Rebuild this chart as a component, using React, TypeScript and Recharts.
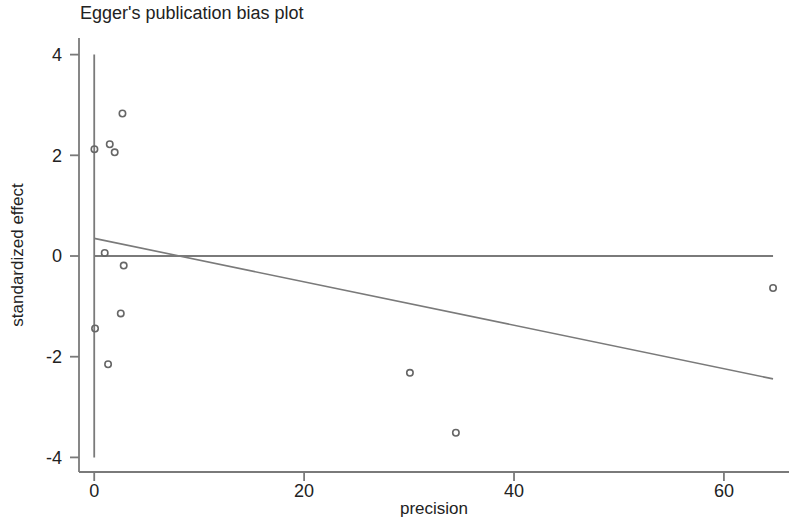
import React from "react"
import { ScatterChart, Scatter, XAxis, YAxis } from "recharts"

// study points
const precision = [0.02, 1.48, 1.95, 2.69, 1.0, 2.81, 2.53, 0.08, 1.32, 30.08, 34.46, 64.68]
const stdEffect = [2.12, 2.22, 2.06, 2.83, 0.06, -0.19, -1.14, -1.44, -2.15, -2.32, -3.51, -0.635]

// Egger regression line end points
const fitPrecision = [0, 64.68]
const fitEffect = [0.35, -2.44]

// reference lines
const zeroLineX = [0, 64.68]
const vertLineY = [-4, 4]

const xTicks = [0, 20, 40, 60]
const yTicks = [-4, -2, 0, 2, 4]

const points = precision.map((x, i) => ({ x, y: stdEffect[i] }))
const fitLine = fitPrecision.map((x, i) => ({ x, y: fitEffect[i] }))
const hLine = zeroLineX.map((x) => ({ x, y: 0 }))
const vLine = vertLineY.map((y) => ({ x: 0, y }))

const gray = "#7a7a7a"
const font = "'Liberation Sans', Arial, sans-serif"

const Ring = (props: any) => {
  const { cx, cy } = props
  if (cx == null || cy == null) return null
  return <circle cx={cx} cy={cy} r={3.2} fill="none" stroke="#666" strokeWidth={1.6} />
}

const NoDot = () => null

export default function App() {
  return (
    <div style={{ position: "absolute", left: 0, top: 0, width: 800, height: 529, background: "#fff", fontFamily: font }}>
      <div style={{ position: "absolute", left: 80, top: 3, fontSize: 18, color: "#222", whiteSpace: "nowrap" }}>
        Egger's publication bias plot
      </div>
      <div
        style={{
          position: "absolute",
          left: 18,
          top: 255,
          transform: "translate(-50%, -50%) rotate(-90deg)",
          fontSize: 17,
          color: "#222",
          whiteSpace: "nowrap",
        }}
      >
        standardized effect
      </div>
      <div
        style={{
          position: "absolute",
          left: 434,
          top: 499,
          transform: "translateX(-50%)",
          fontSize: 17,
          color: "#222",
          whiteSpace: "nowrap",
        }}
      >
        precision
      </div>
      <ScatterChart width={800} height={529} margin={{ top: 38, right: 11, left: 0, bottom: 0 }}>
        <XAxis
          type="number"
          dataKey="x"
          domain={[-1.45, 66.2]}
          ticks={xTicks}
          allowDataOverflow
          height={57}
          tickSize={9}
          tickMargin={3}
          axisLine={{ stroke: gray, strokeWidth: 1.8 }}
          tickLine={{ stroke: gray, strokeWidth: 1.8 }}
          tick={{ fill: "#222", fontSize: 18, fontFamily: font }}
        />
        <YAxis
          type="number"
          dataKey="y"
          domain={[-4.29, 4.33]}
          ticks={yTicks}
          allowDataOverflow
          width={79}
          tickSize={9}
          tickMargin={8}
          axisLine={{ stroke: gray, strokeWidth: 1.8 }}
          tickLine={{ stroke: gray, strokeWidth: 1.8 }}
          tick={{ fill: "#222", fontSize: 18, fontFamily: font }}
        />
        <Scatter data={vLine} line={{ stroke: gray, strokeWidth: 1.8 }} shape={NoDot} isAnimationActive={false} />
        <Scatter data={hLine} line={{ stroke: gray, strokeWidth: 1.8 }} shape={NoDot} isAnimationActive={false} />
        <Scatter data={fitLine} line={{ stroke: gray, strokeWidth: 1.6 }} shape={NoDot} isAnimationActive={false} />
        <Scatter data={points} shape={Ring} isAnimationActive={false} />
      </ScatterChart>
    </div>
  )
}
